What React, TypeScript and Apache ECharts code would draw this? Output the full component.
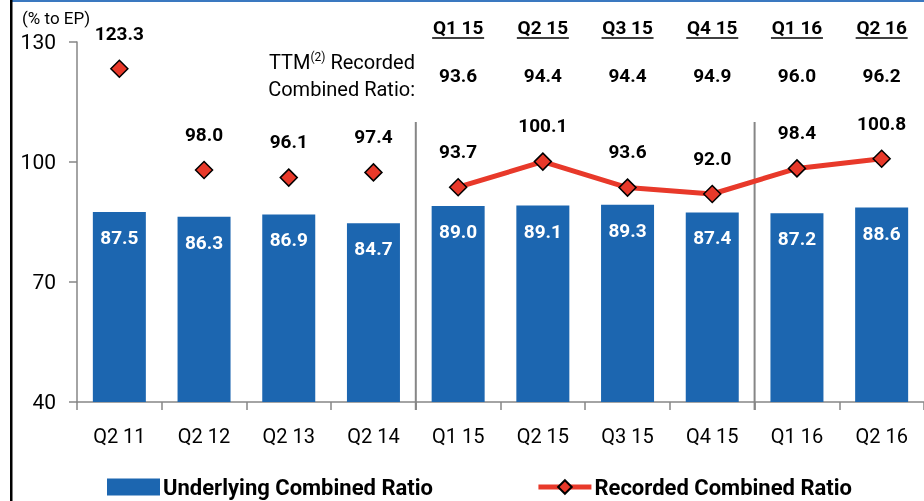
import React, { useEffect, useRef } from "react";
import * as echarts from "echarts";

const categories = ["Q2 11", "Q2 12", "Q2 13", "Q2 14", "Q1 15", "Q2 15", "Q3 15", "Q4 15", "Q1 16", "Q2 16"];
const underlying = [87.5, 86.3, 86.9, 84.7, 89.0, 89.1, 89.3, 87.4, 87.2, 88.6];
const recordedAnnual = [123.3, 98.0, 96.1, 97.4, "-", "-", "-", "-", "-", "-"];
const recordedQuarterly = ["-", "-", "-", "-", 93.7, 100.1, 93.6, 92.0, 98.4, 100.8];
const ttmQuarters = ["Q1 15", "Q2 15", "Q3 15", "Q4 15", "Q1 16", "Q2 16"];
const ttmValues = [93.6, 94.4, 94.4, 94.9, 96.0, 96.2];
const yTicks = { min: 40, max: 130, interval: 30 };
const dividerAfter = [3, 7];

const FONT = "Roboto";
const BLUE = "#1C66B0";
const RED = "#E8392A";

export default function App() {
  const ref = useRef<HTMLDivElement>(null);
  useEffect(() => {
    document.body.style.margin = "0";
    const chart = echarts.init(ref.current!, null, { renderer: "svg" });
    const fmt = (p: any) => Number(p.value).toFixed(1);
    const diamond = {
      symbol: "diamond",
      symbolSize: 17,
      itemStyle: { color: RED, borderColor: "#000", borderWidth: 1.5, opacity: 1 },
    };
    const pointLabel = {
      show: true,
      position: "top",
      distance: 17,
      color: "#000",
      opacity: 1,
      fontSize: 19,
      fontWeight: "bold",
      fontFamily: FONT,
      formatter: fmt,
    };
    chart.setOption({
      animation: false,
      textStyle: { fontFamily: FONT },
      grid: { left: 77, right: -3, top: 42, bottom: 99, containLabel: false },
      legend: {
        left: 107,
        top: 476,
        padding: 0,
        itemWidth: 53,
        itemHeight: 17,
        itemGap: 103,
        textStyle: { fontSize: 22, fontWeight: "bold", color: "#000", fontFamily: FONT, padding: [0, 0, 0, -2] },
        data: [
          { name: "Underlying Combined Ratio", icon: "rect" },
          { name: "Recorded Combined Ratio", lineStyle: { width: 5, color: RED } },
        ],
      },
      xAxis: {
        type: "category",
        data: categories,
        axisLine: { lineStyle: { color: "#868686", width: 1.5 } },
        axisTick: { show: true, length: 8, lineStyle: { color: "#868686", width: 1.5 } },
        axisLabel: { fontSize: 20, color: "#000", margin: 24, fontFamily: FONT },
      },
      yAxis: {
        type: "value",
        min: yTicks.min,
        max: yTicks.max,
        interval: yTicks.interval,
        splitLine: { show: false },
        axisLine: { show: true, lineStyle: { color: "#868686", width: 1.5 } },
        axisTick: { show: true, length: 8, lineStyle: { color: "#868686", width: 1.5 } },
        axisLabel: { fontSize: 21, color: "#000", margin: 21, fontFamily: FONT },
      },
      series: [
        {
          name: "Underlying Combined Ratio",
          type: "bar",
          data: underlying,
          barWidth: 53,
          itemStyle: { color: BLUE },
          label: {
            show: true,
            position: "insideTop",
            distance: 16,
            color: "#fff",
            fontSize: 19,
            fontWeight: "bold",
            fontFamily: FONT,
            formatter: fmt,
          },
        },
        {
          name: "Recorded Combined Ratio",
          type: "line",
          data: recordedQuarterly,
          lineStyle: { color: RED, width: 5 },
          ...diamond,
          label: pointLabel,
          z: 5,
        },
        {
          name: "Recorded (annual)",
          type: "scatter",
          data: recordedAnnual,
          ...diamond,
          label: pointLabel,
          z: 5,
        },
      ],
    });

    const cx = (i: number) => chart.convertToPixel({ xAxisIndex: 0 }, i) as number;
    const cy = (v: number) => chart.convertToPixel({ yAxisIndex: 0 }, v) as number;
    const axisY = cy(yTicks.min);
    const graphic: any[] = [
      { type: "rect", shape: { x: 11, y: 0, width: 913, height: 2 }, style: { fill: "#3A78C0" } },
      { type: "rect", shape: { x: 10, y: 0, width: 2.5, height: 501 }, style: { fill: "#000" } },
      {
        type: "text",
        x: 22,
        y: 18,
        style: { text: "(% to EP)", fontSize: 17, fill: "#000", fontFamily: FONT, verticalAlign: "middle" },
      },
      {
        type: "text",
        x: 415,
        y: 62,
        style: {
          text: "TTM{sup|(2)} Recorded",
          align: "right",
          verticalAlign: "middle",
          fontSize: 20,
          fill: "#000",
          fontFamily: FONT,
          rich: { sup: { fontSize: 12, verticalAlign: "top", padding: [0, 0, 10, 0], fontFamily: FONT } },
        },
      },
      {
        type: "text",
        x: 415,
        y: 89,
        style: {
          text: "Combined Ratio:",
          align: "right",
          verticalAlign: "middle",
          fontSize: 20,
          fill: "#000",
          fontFamily: FONT,
        },
      },
    ];
    dividerAfter.forEach((i) => {
      const x = (cx(i) + cx(i + 1)) / 2;
      graphic.push({
        type: "line",
        shape: { x1: x, y1: cy(110), x2: x, y2: axisY + 8 },
        style: { stroke: "#868686", lineWidth: 2 },
      });
    });
    ttmQuarters.forEach((q, k) => {
      const idx = categories.indexOf(q);
      const x = cx(idx);
      graphic.push({
        type: "text",
        x,
        y: 27,
        style: {
          text: q,
          align: "center",
          verticalAlign: "middle",
          fontSize: 19,
          fontWeight: "bold",
          fill: "#000",
          fontFamily: FONT,
        },
      });
      graphic.push({
        type: "line",
        shape: { x1: x - 26, y1: 38, x2: x + 26, y2: 38 },
        style: { stroke: "#000", lineWidth: 1.5 },
      });
      graphic.push({
        type: "text",
        x,
        y: 75,
        style: {
          text: ttmValues[k].toFixed(1),
          align: "center",
          verticalAlign: "middle",
          fontSize: 19,
          fontWeight: "bold",
          fill: "#000",
          fontFamily: FONT,
        },
      });
    });
    chart.setOption({ graphic });
    return () => chart.dispose();
  }, []);
  return <div ref={ref} style={{ position: "fixed", left: 0, top: 0, width: 924, height: 501 }} />;
}
